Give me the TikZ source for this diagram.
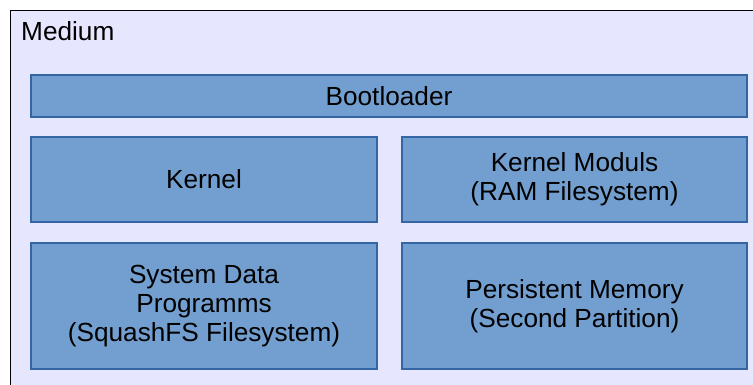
\documentclass[tikz,border=0pt]{standalone}
\usepackage{fontspec}
\setmainfont{Liberation Sans}
\definecolor{partfill}{HTML}{729FCF}
\definecolor{partline}{HTML}{3465A4}
\definecolor{mediumbg}{HTML}{E6E6FF}
\begin{document}
\begin{tikzpicture}[x=1pt,y=-1pt,
		part/.style={draw=partline, line width=1.5pt, fill=partfill, align=center,
			inner sep=0pt, font=\fontsize{26.2}{29}\selectfont},
		]
		\useasboundingbox (0,0) rectangle (753,385);
		\clip (0,0) rectangle (753,385);

		%medium
		\draw[fill=mediumbg, line width=1pt] (10.5,11) rectangle (780,400);
		\node[anchor=base west, inner sep=0pt, font=\fontsize{26.2}{29}\selectfont] (medium) at (21,40.7) {Medium};

		%boot row
		\node[part, minimum width=716pt, minimum height=42pt] (boot) at (389,96) {Bootloader};

		%kernel row
		\node[part, minimum width=346pt, minimum height=85pt] (kernel) at (204,179.5) {Kernel};
		\node[part, minimum width=345pt, minimum height=85pt] (moduls) at (574.5,179.5) {Kernel Moduls\\(RAM Filesystem)};

		%data row
		\node[part, minimum width=346pt, minimum height=126pt] (sysdata) at (204,306) {System Data\\Programms\\(SquashFS Filesystem)};
		\node[part, minimum width=345pt, minimum height=126pt] (persist) at (574.5,306) {Persistent Memory\\(Second Partition)};
	\end{tikzpicture}
\end{document}
